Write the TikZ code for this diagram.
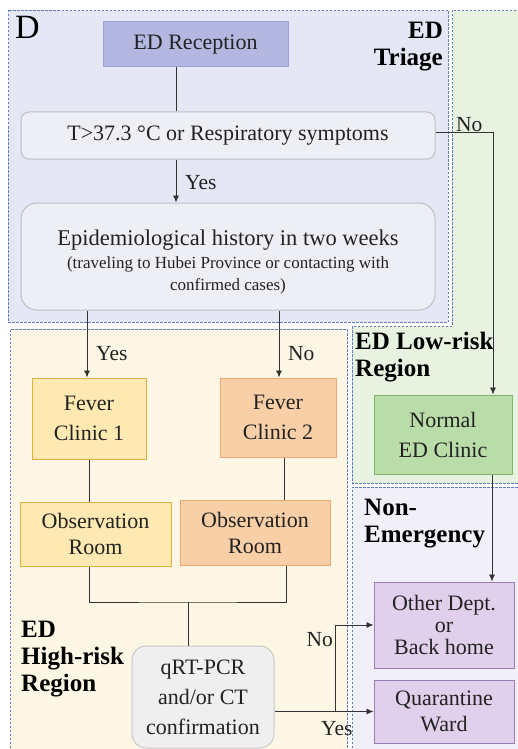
\documentclass[tikz,border=0pt]{standalone}
\usepackage{fontspec}
\setmainfont{Liberation Serif}
\usetikzlibrary{arrows.meta,calc}
\definecolor{regblue}{HTML}{5F7FC0}
\definecolor{triagefill}{HTML}{E5E7F4}
\definecolor{greenreg}{HTML}{E8F2E0}
\definecolor{highreg}{HTML}{FEF6E4}
\definecolor{nonreg}{HTML}{F1EFF8}
\definecolor{recfill}{HTML}{B4B7E0}
\definecolor{recdraw}{HTML}{9DA1D6}
\definecolor{greyfill}{HTML}{EEEFF4}
\definecolor{greydraw}{HTML}{BDBDC4}
\definecolor{yfill}{HTML}{FFE9B2}
\definecolor{ydraw}{HTML}{E0B040}
\definecolor{pfill}{HTML}{F9CFA8}
\definecolor{pdraw}{HTML}{F0A878}
\definecolor{gfill}{HTML}{B9DCA9}
\definecolor{gdraw}{HTML}{7BB766}
\definecolor{vfill}{HTML}{E0D0EC}
\definecolor{vdraw}{HTML}{9C7CB8}
\definecolor{qfill}{HTML}{EFEFEF}
\definecolor{qdraw}{HTML}{C8C8C8}
\definecolor{txt}{HTML}{222222}
\tikzset{
  region/.style={draw=regblue, dash pattern=on 2.5pt off 1.5pt, line width=0.8pt},
  box/.style={draw, line width=1pt, inner sep=0pt, align=center, text=txt,
    font=\fontsize{22}{30}\selectfont},
  conn/.style={draw=black!80, line width=0.8pt},
  arr/.style={conn, -{Latex[length=7pt,width=6pt]}},
  lab/.style={text=txt, font=\fontsize{21.5}{24}\selectfont, inner sep=0pt},
  reglab/.style={text=black, align=left, inner sep=0pt,
    font=\bfseries\fontsize{25}{27}\selectfont}
}
\begin{document}
\begin{tikzpicture}[x=1pt,y=-1pt]
\useasboundingbox (0,0) rectangle (517,749);
% regions
\path[fill=greenreg] (452,10) -- (520,10) -- (520,483) -- (352,483) -- (352,326) -- (452,326) -- cycle;
\draw[region] (520,10) -- (452,10) -- (452,326) -- (352,326) -- (352,483) -- (520,483);
\fill[highreg] (10,329) rectangle (347,752);
\draw[region] (10,752) -- (10,329) -- (347,329) -- (347,752);
\fill[nonreg] (352,487) rectangle (520,752);
\draw[region] (352,752) -- (352,487) -- (520,487);
\fill[white] (5,7) rectangle (451,325);
\fill[triagefill] (8,10) rectangle (448,322);
\draw[region] (8,10) rectangle (448,322);
% region labels
\node[anchor=north west, inner sep=0pt, font=\fontsize{34}{34}\selectfont] (dlab) at (15,16) {D};
\node[reglab, anchor=north east, align=right] (triagelab) at (443,22) {ED\\Triage};
\node[reglab, anchor=north west] (lowlab) at (355,332) {ED Low-risk\\Region};
\node[reglab, anchor=north west] (nonlab) at (364,499) {Non-\\Emergency};
\node[reglab, anchor=north west] (highlab) at (21,621) {ED\\High-risk\\Region};
% nodes
\node[box, fill=recfill, draw=recdraw, minimum width=185, minimum height=45] (rec) at (195.5,44.5) {ED Reception};
\node[box, fill=greyfill, draw=greydraw, rounded corners=8pt, minimum width=414, minimum height=47] (temp) at (228,135.5) {T>37.3 °C or Respiratory symptoms};
\node[box, fill=greyfill, draw=greydraw, rounded corners=16pt, minimum width=414, minimum height=107] (epi) at (228,256.5)
  {{\fontsize{22.5}{28}\selectfont\rule{0pt}{26pt}Epidemiological history in two weeks}\\[-7pt]{\fontsize{17}{22}\selectfont (traveling to Hubei Province or contacting with}\\[-8pt]{\fontsize{17}{22}\selectfont confirmed cases)}};
\node[box, fill=yfill, draw=ydraw, minimum width=114, minimum height=81] (fc1) at (89,418.5) {Fever\\Clinic 1};
\node[box, fill=pfill, draw=pdraw, minimum width=116, minimum height=79] (fc2) at (278,417.5) {Fever\\Clinic 2};
\node[box, fill=yfill, draw=ydraw, minimum width=151, minimum height=64, font=\fontsize{22}{26}\selectfont] (obs1) at (95.5,534) {Observation\\Room};
\node[box, fill=pfill, draw=pdraw, minimum width=150, minimum height=65, font=\fontsize{22}{26}\selectfont] (obs2) at (255,532.5) {Observation\\Room};
\node[box, fill=qfill, draw=qdraw, rounded corners=14pt, minimum width=142, minimum height=102] (qrt) at (203,697) {qRT-PCR\\and/or CT\\confirmation};
\node[box, fill=gfill, draw=gdraw, minimum width=138, minimum height=79] (normal) at (443,434.5) {Normal\\ED Clinic};
\node[box, fill=vfill, draw=vdraw, minimum width=140, minimum height=86, font=\fontsize{22}{22}\selectfont] (other) at (444,625) {Other Dept.\\or\\Back home};
\node[box, fill=vfill, draw=vdraw, minimum width=140, minimum height=63, font=\fontsize{22}{26}\selectfont] (quar) at (444,711.5) {Quarantine\\Ward};
% connectors
\draw[conn] ([xshift=-19.5pt]rec.south) -- ([xshift=-19.5pt]rec.south |- temp.north);
\draw[arr] ([xshift=-52pt]temp.south) -- ([xshift=-52pt]epi.north);
\node[lab, anchor=west] (yes1) at (185,183) {Yes};
\draw[arr] ([yshift=3.5pt]temp.east) -| ([xshift=50pt]normal.north);
\node[lab, anchor=west] (no1) at (456,125) {No};
\draw[arr] ([xshift=-141pt]epi.south) -- ([xshift=-141pt]epi.south |- fc1.north);
\node[lab, anchor=west] (yes2) at (96,354) {Yes};
\draw[arr] ([xshift=51pt]epi.south) -- ([xshift=51pt]epi.south |- fc2.north);
\node[lab, anchor=west] (no2) at (288,354) {No};
\draw[conn] (fc1.south) -- (fc1.south |- obs1.north);
\draw[conn] ([xshift=6pt]fc2.south) -- ([xshift=6pt]fc2.south |- obs2.north);
\coordinate (join) at (188,602);
\draw[conn] (obs1.south -| fc1.south) |- (join) -| ([xshift=31pt]obs2.south);
\draw[conn] (join) -- (join |- qrt.north);
\coordinate (br) at (335,711.5);
\draw[arr] (quar.west -| qrt.east) -- (quar.west);
\draw[arr] (br) |- (other.west);
\node[lab, anchor=east] (no3) at (333,640) {No};
\node[lab, anchor=west] (yes3) at (321,729) {Yes};
\draw[arr] ([xshift=49pt]normal.south) -- ([xshift=49pt]normal.south |- other.north);
\end{tikzpicture}
\end{document}
